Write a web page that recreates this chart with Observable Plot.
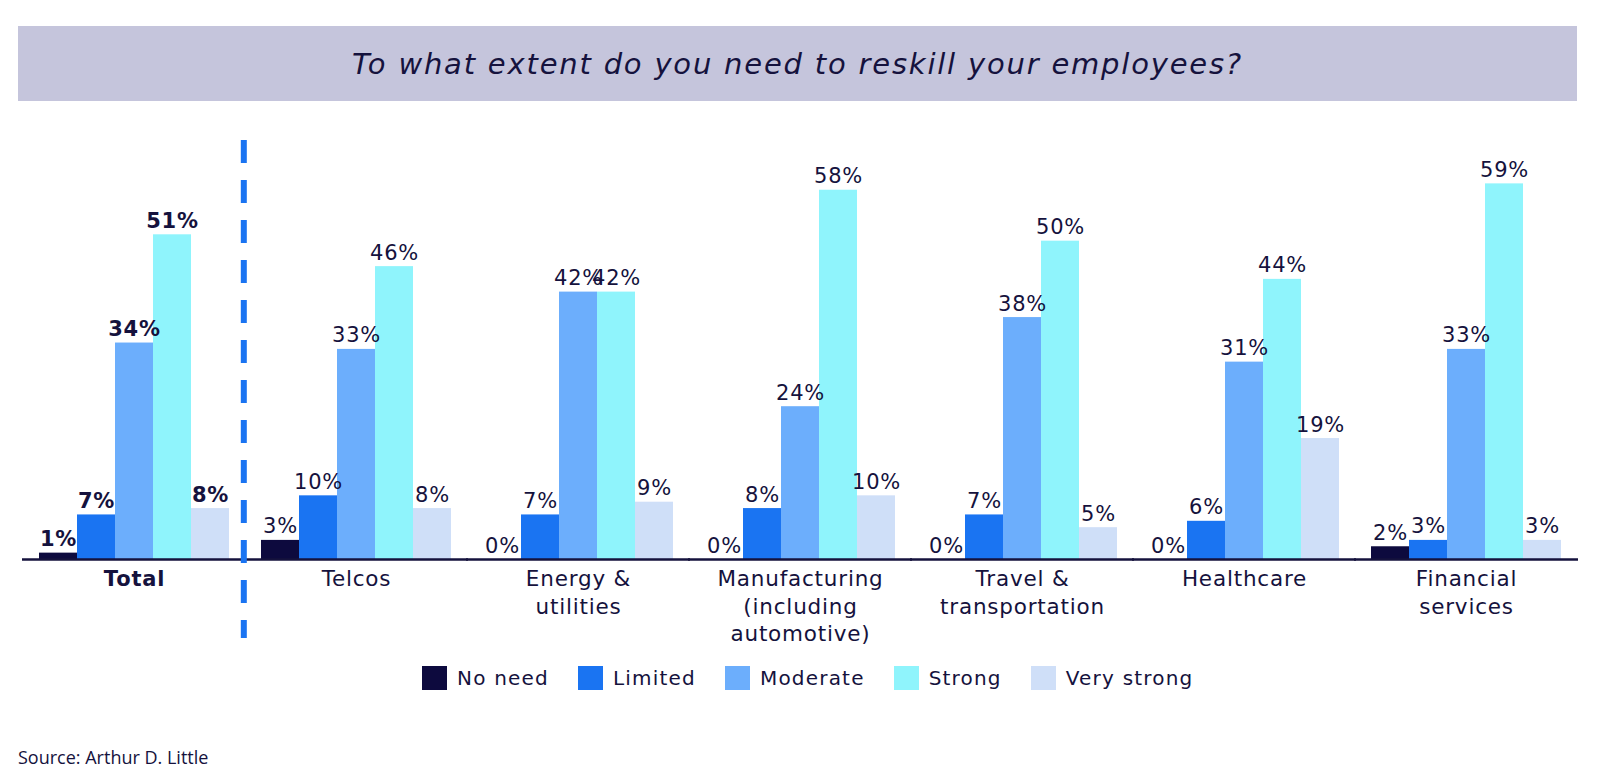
<!DOCTYPE html>
<html>
<head>
<meta charset="utf-8">
<script src="https://cdn.jsdelivr.net/npm/d3@7"></script>
<script src="https://cdn.jsdelivr.net/npm/@observablehq/plot@0.6"></script>
<style>
  html, body { margin: 0; padding: 0; background: #ffffff; }
  body { width: 1612px; height: 784px; position: relative; overflow: hidden; font-family: "DejaVu Sans", sans-serif; color: #15123d; }
  #title { position: absolute; left: 18px; top: 26px; width: 1559px; height: 75px; background: #c5c5dc;
           display: flex; align-items: center; justify-content: center;
           font-style: italic; font-size: 29px; letter-spacing: 1.8px; color: #15123d; }
  #chart { position: absolute; left: 0; top: 101px; }
  #chart svg text { letter-spacing: 0.8px; }
  #chart svg g[aria-label="category"] text { letter-spacing: 2.5px; }
  #legend { position: absolute; left: 422px; top: 666px; display: flex; align-items: center; font-size: 20px; letter-spacing: 1.2px; }
  #legend .item { display: flex; align-items: center; margin-right: 29px; }
  #legend .sw { width: 25px; height: 24px; margin-right: 10px; }
  #source { position: absolute; left: 18px; top: 745px; font-family: "Open Sans", sans-serif; font-size: 18px; color: #15123d; }
</style>
</head>
<body>
<div id="title">To what extent do you need to reskill your employees?</div>
<div id="chart"></div>
<div id="legend"></div>
<div id="source">Source: Arthur D. Little</div>
<script>
const groups = ["Total", "Telcos", "Energy & utilities", "Manufacturing (including automotive)", "Travel & transportation", "Healthcare", "Financial services"];
const groupLabels = ["Total", "Telcos", "Energy &\nutilities", "Manufacturing\n(including\nautomotive)", "Travel &\ntransportation", "Healthcare", "Financial\nservices"];
const series = ["No need", "Limited", "Moderate", "Strong", "Very strong"];
const noNeed     = [1, 3, 0, 0, 0, 0, 2];
const limited    = [7, 10, 7, 8, 7, 6, 3];
const moderate   = [34, 33, 42, 24, 38, 31, 33];
const strong     = [51, 46, 42, 58, 50, 44, 59];
const veryStrong = [8, 8, 9, 10, 5, 19, 3];
const colors = ["#0d0a3e", "#1a74f2", "#6caefc", "#8ff4fc", "#cfdff8"];
const navy = "#15123d";

const seriesValues = [noNeed, limited, moderate, strong, veryStrong];
const rows = groups.flatMap((g, i) => series.map((s, j) => ({group: g, series: s, value: seriesValues[j][i]})));
const cats = groups.map((g, i) => ({group: g, label: groupLabels[i]}));

const W = 1612, H = 545, mT = 76, mB = 87;
const chart = Plot.plot({
  width: W, height: H,
  marginLeft: 21, marginRight: 33, marginTop: mT, marginBottom: mB,
  fx: {domain: groups, paddingInner: 0.137, paddingOuter: 0.07, axis: null},
  x: {domain: series, padding: 0, axis: null},
  y: {domain: [0, 60], axis: null},
  color: {domain: series, range: colors},
  style: {fontFamily: "DejaVu Sans", color: navy, background: "transparent", overflow: "visible"},
  marks: [
    Plot.barY(rows, {fx: "group", x: "series", y: "value", fill: "series"}),
    Plot.ruleY([0], {stroke: navy, strokeWidth: 2.5, insetLeft: -16, insetRight: -16}),
    Plot.text(rows.filter(d => d.group === "Total"), {fx: "group", x: "series", y: "value", text: d => d.value + "%", dy: -7, lineAnchor: "bottom", fontSize: 21, fontWeight: "bold", fill: navy}),
    Plot.text(rows.filter(d => d.group !== "Total"), {fx: "group", x: "series", y: "value", text: d => d.value + "%", dy: -7, lineAnchor: "bottom", fontSize: 21, fill: navy}),
    Plot.text(cats.filter(d => d.group === "Total"), {fx: "group", text: "label", frameAnchor: "bottom", dy: 12, lineAnchor: "top", fontSize: 21, fontWeight: "bold", fill: navy, ariaLabel: "category"}),
    Plot.text(cats.filter(d => d.group !== "Total"), {fx: "group", text: "label", frameAnchor: "bottom", dy: 7, lineAnchor: "top", lineHeight: 1.28, fontSize: 21.5, fill: navy, ariaLabel: "category"})
  ]
});
document.getElementById("chart").appendChild(chart);

// dashed divider between "Total" and the industry groups, positioned from the fx scale
const fxs = chart.scale("fx");
const band = d3.scaleBand(fxs.domain, fxs.range)
  .paddingInner(fxs.paddingInner ?? 0.137)
  .paddingOuter(fxs.paddingOuter ?? 0.07)
  .align(fxs.align ?? 0.5);
const xDiv = (band(groups[0]) + band.bandwidth() + band(groups[1])) / 2;
d3.select(chart).append("line")
  .attr("x1", xDiv).attr("x2", xDiv)
  .attr("y1", mT - 37).attr("y2", H - 8)
  .attr("stroke", colors[1]).attr("stroke-width", 6)
  .attr("stroke-dasharray", "23,17");

// legend
const legend = d3.select("#legend");
series.forEach((s, i) => {
  const item = legend.append("div").attr("class", "item");
  item.append("div").attr("class", "sw").style("background", colors[i]);
  item.append("span").text(s);
});
</script>
</body>
</html>
